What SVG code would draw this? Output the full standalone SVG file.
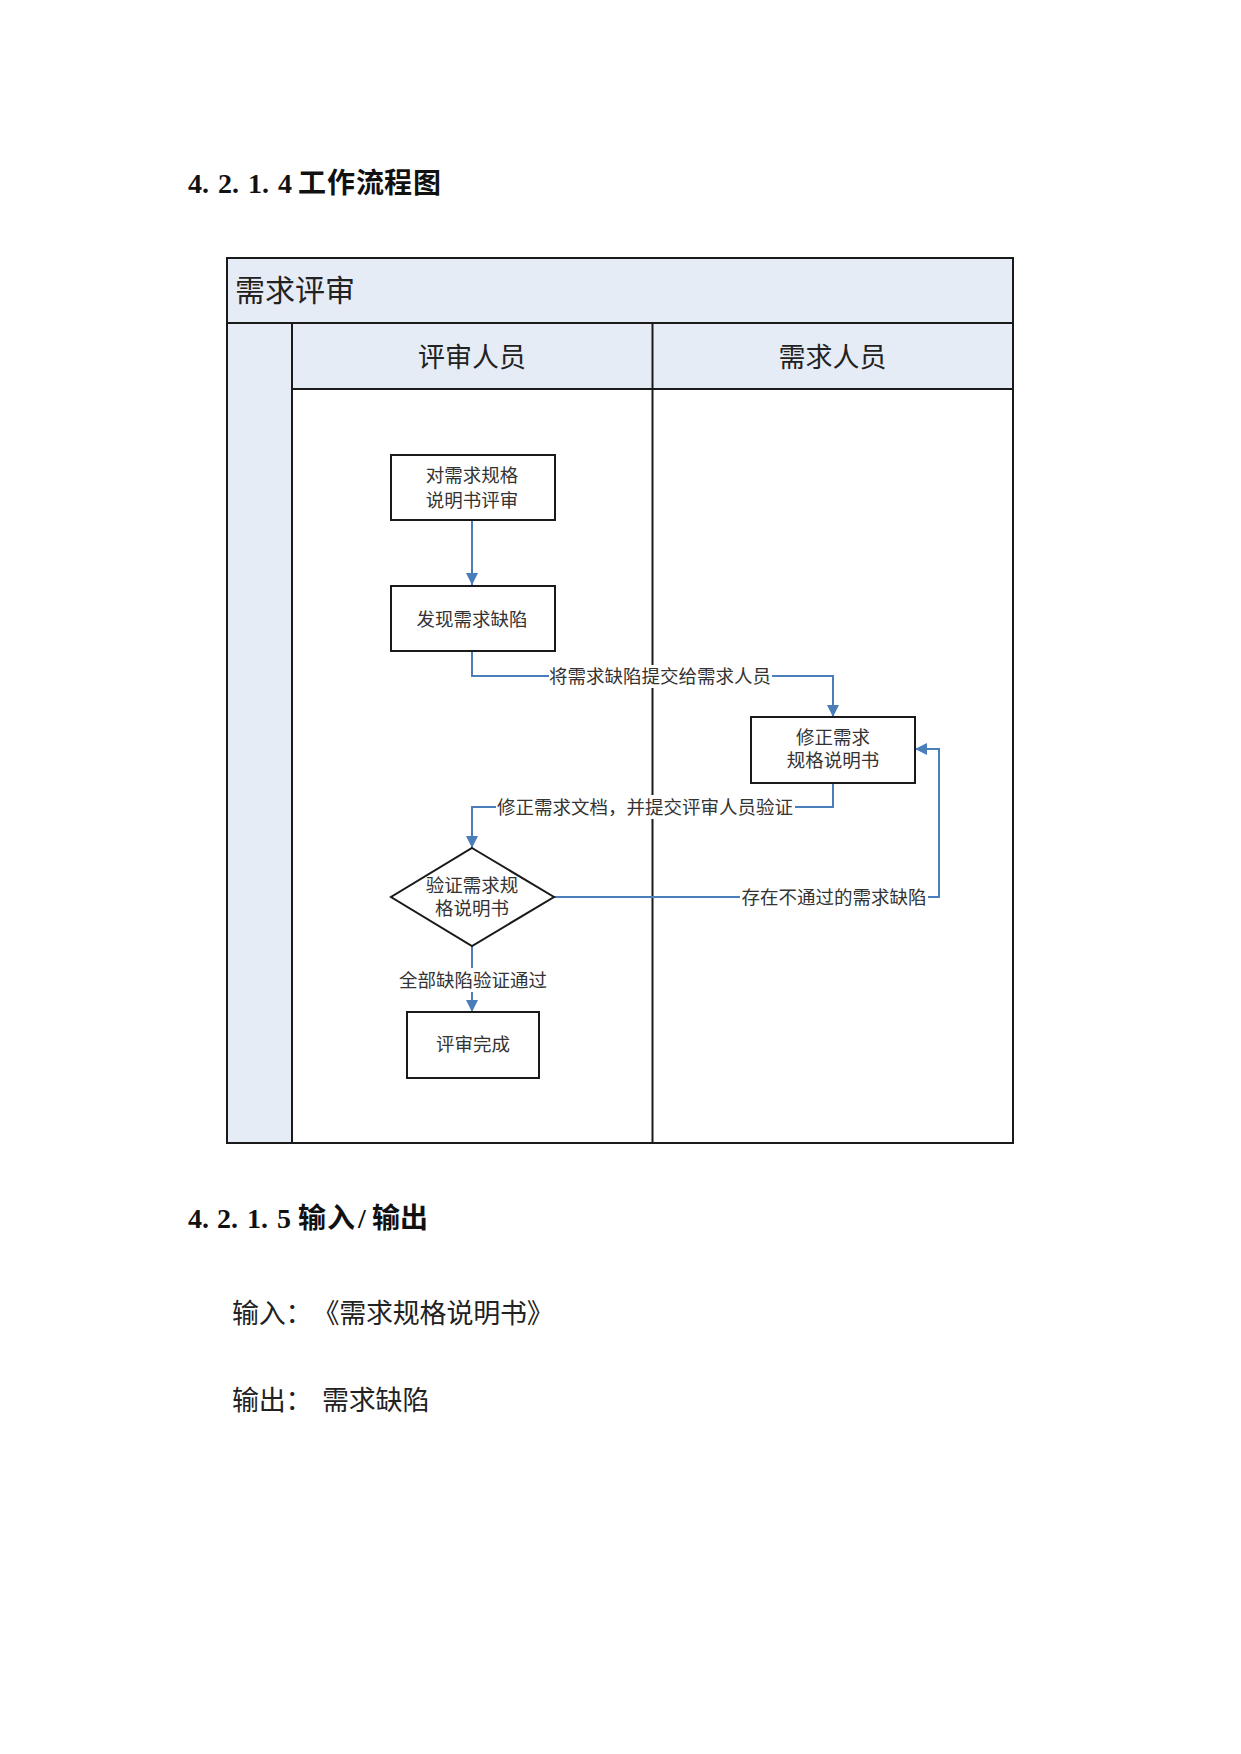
<svg xmlns="http://www.w3.org/2000/svg" width="1241" height="1754" viewBox="0 0 1241 1754">
<style>
.h{font-family:"Liberation Serif","Noto Sans CJK SC",serif;font-size:28px;font-weight:bold;fill:#111}
.body{font-family:"Noto Sans CJK SC",sans-serif;font-size:27px;fill:#222}
.lane{fill:#e6ecf6;stroke:none}
.frame{fill:none;stroke:#1a1a1a;stroke-width:2}
.node{fill:#fff;stroke:#1a1a1a;stroke-width:2}
.t{font-family:"Noto Sans CJK SC",sans-serif;font-size:18.5px;fill:#333;text-anchor:middle}
.hd{font-family:"Noto Sans CJK SC",sans-serif;fill:#222}
.c{fill:none;stroke:#4a7ebb;stroke-width:2}
.bg{fill:#fff}
</style>
<defs>
<marker id="arr" viewBox="0 0 12 12" refX="12" refY="6" markerWidth="12" markerHeight="12" markerUnits="userSpaceOnUse" orient="auto">
<path d="M0,0 L12,6 L0,12 z" fill="#4a7ebb"/>
</marker>
</defs>
<rect width="1241" height="1754" fill="#fff"/>
<text class="h" x="188 202 218 232 248 262 278 298 327 356 384 413" y="193">4.2.1.4工作流程图</text>

<g id="pool">
<rect class="lane" x="227" y="258" width="786" height="65"/>
<rect class="lane" x="227" y="323" width="65" height="820"/>
<rect class="lane" x="292" y="323" width="721" height="66"/>
<rect class="frame" x="227" y="258" width="786" height="885"/>
<line class="frame" x1="227" y1="323" x2="1013" y2="323"/>
<line class="frame" x1="292" y1="323" x2="292" y2="1143"/>
<line class="frame" x1="652.5" y1="323" x2="652.5" y2="1143"/>
<line class="frame" x1="292" y1="389" x2="1013" y2="389"/>
<text class="hd" x="235" y="301" font-size="30">需求评审</text>
<text class="hd" x="472" y="367" font-size="27" text-anchor="middle">评审人员</text>
<text class="hd" x="832.5" y="367" font-size="27" text-anchor="middle">需求人员</text>
</g>

<g id="connectors">
<path class="c" d="M472,520 V585" marker-end="url(#arr)"/>
<path class="c" d="M472,651 V676 H833 V717" marker-end="url(#arr)"/>
<path class="c" d="M833,783 V807 H472 V848" marker-end="url(#arr)"/>
<path class="c" d="M554,897 H939 V749 H915" marker-end="url(#arr)"/>
<path class="c" d="M472,946 V1012" marker-end="url(#arr)"/>
<rect class="bg" x="549" y="665" width="223" height="23"/>
<text class="t" x="660" y="683">将需求缺陷提交给需求人员</text>
<rect class="bg" x="496" y="795" width="299" height="24"/>
<text class="t" x="645" y="814">修正需求文档，并提交评审人员验证</text>
<rect class="bg" x="740" y="886" width="188" height="23"/>
<text class="t" x="834" y="904">存在不通过的需求缺陷</text>
<rect class="bg" x="398" y="968" width="151" height="24"/>
<text class="t" x="473" y="987">全部缺陷验证通过</text>
</g>

<g id="n1">
<rect class="node" x="391" y="455" width="164" height="65"/>
<text class="t" x="472" y="482">对需求规格</text>
<text class="t" x="472" y="507">说明书评审</text>
</g>
<g id="n2">
<rect class="node" x="391" y="586" width="164" height="65"/>
<text class="t" x="472" y="626">发现需求缺陷</text>
</g>
<g id="n3">
<rect class="node" x="751" y="717" width="164" height="66"/>
<text class="t" x="833" y="744">修正需求</text>
<text class="t" x="833" y="767">规格说明书</text>
</g>
<g id="n4">
<polygon class="node" points="472,848 554,897 472,946 391,897"/>
<text class="t" x="472" y="892" font-size="18">验证需求规</text>
<text class="t" x="472" y="915" font-size="18">格说明书</text>
</g>
<g id="n5">
<rect class="node" x="407" y="1012" width="132" height="66"/>
<text class="t" x="473" y="1051">评审完成</text>
</g>

<text class="h" x="188 202 217 231 247 261 277 298 327 358 372 400" y="1228">4.2.1.5输入/输出</text>
<text class="body" x="232 258.8 285.6 312.4 339.2 366 392.8 419.6 446.4 473.2 500 526.8" y="1323">输入：《需求规格说明书》</text>
<text class="body" x="232 258.8 285.6" y="1410">输出：</text>
<text class="body" x="322 348.8 375.6 402.4" y="1410">需求缺陷</text>
</svg>
